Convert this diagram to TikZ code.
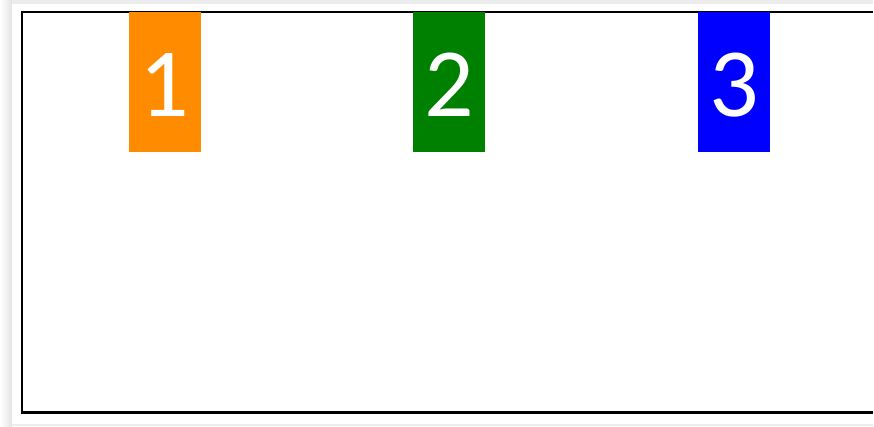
\documentclass[tikz,border=0pt]{standalone}
\usepackage{fontspec}
\newfontfamily\numfont{Carlito}
\usepackage{xcolor}
\usetikzlibrary{positioning, calc}

\definecolor{boxorange}{HTML}{FF8C00}
\definecolor{boxgreen}{HTML}{008000}
\definecolor{boxblue}{HTML}{0000FF}

\begin{document}
\begin{tikzpicture}[
		x=2pt, y=-2pt,
		% --- STYLES ---
		numbox/.style={
			rectangle, anchor=north, inner sep=0pt, text=white,
			minimum width=144pt, minimum height=280pt, text height=140pt, text depth=0pt,
			font=\numfont\fontsize{196}{196}\selectfont
		},
		frameline/.style={
			draw=black, line width=4.4pt
		}
	]
	
	% ==========================================
	% 1. Page and shadow
	% ==========================================
	\path[fill=white] (0,0) rectangle (874,427);
	\fill[gray!15] (0,0) rectangle (874,4);
	\fill[gray!15] (0,425) rectangle (874,427);
	\shade[left color=white, right color=gray!22] (0,0) rectangle (12,427);
	\fill[white] (12,4) rectangle (874,425);
	
	% ==========================================
	% 2. Frame (runs past the right edge)
	% ==========================================
	\coordinate (frame_nw) at (22,12);
	\coordinate (frame_ne) at (874,12);
	\coordinate (frame_sw) at (22,413);
	\coordinate (frame_se) at (874,413);
	\draw [frameline] (frame_ne) -- (frame_nw) -- (frame_sw) -- (frame_se);
	
	% ==========================================
	% 3. Numbered boxes
	% ==========================================
	\node [numbox, fill=boxorange] (box1) at (165,12) {1};
	\node [numbox, fill=boxgreen] (box2) at (450,12) {2};
	\node [numbox, fill=boxblue] (box3) at (735,12) {3};
	
	\useasboundingbox (0,0) rectangle (874,427);
\end{tikzpicture}
\end{document}
